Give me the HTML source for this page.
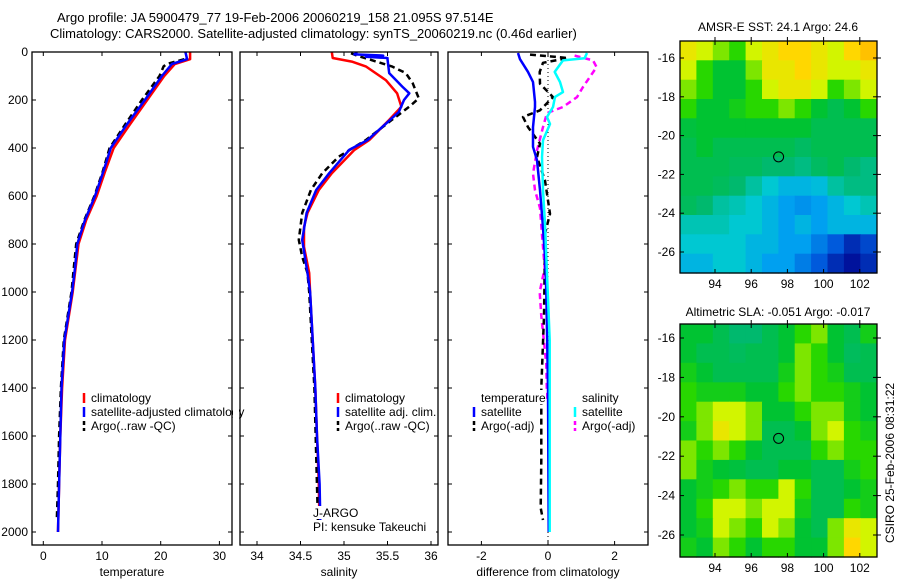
<!DOCTYPE html>
<html><head><meta charset="utf-8">
<style>
html,body{margin:0;padding:0;background:#fff;}
svg{display:block;font-family:"Liberation Sans",sans-serif;}
text{font-size:12px;fill:#000;}
</style></head>
<body>
<svg id="fig" width="900" height="580" viewBox="0 0 900 580" xmlns="http://www.w3.org/2000/svg">
<defs>
<clipPath id="c1"><rect x="32" y="52" width="200" height="493"/></clipPath>
<clipPath id="c2"><rect x="240" y="52" width="198" height="493"/></clipPath>
<clipPath id="c3"><rect x="448" y="52" width="200" height="493"/></clipPath>
</defs>
<text x="57" y="22" style="font-size:13px">Argo profile: JA 5900479_77 19-Feb-2006 20060219_158 21.095S 97.514E</text>
<text x="50" y="38" style="font-size:13px">Climatology: CARS2000. Satellite-adjusted climatology: synTS_20060219.nc (0.46d earlier)</text>
<g id="p1"></g>
<g id="p2"></g>
<g id="p3"></g>
<g id="m1"></g>
<g id="m2"></g>
<text x="778" y="31" text-anchor="middle">AMSR-E SST: 24.1  Argo: 24.6</text>
<text x="778" y="316" text-anchor="middle">Altimetric SLA: -0.051  Argo: -0.017</text>
<text transform="translate(894,463) rotate(-90)" text-anchor="middle">CSIRO 25-Feb-2006 08:31:22</text>
</svg>
<script>
// ---- data ----
const depthTicks=[0,200,400,600,800,1000,1200,1400,1600,1800,2000];
const tempTicks=[0,10,20,30];
const salTicks=[34,34.5,35,35.5,36];
const salTickLabels=["34","34.5","35","35.5","36"];
const diffTicks=[-2,0,2];
// temperature
const tClimDepth=[0,30,50,100,200,300,400,500,600,700,800,900,1000,1200,1400,1600,1800,2000];
const tClim=[25.0,25.0,22.4,20.6,17.7,14.8,12.0,10.5,9.1,7.3,6.0,5.5,5.0,3.7,3.2,2.9,2.7,2.5];
const tSatDepth=[0,30,50,100,200,300,400,500,600,700,800,900,1000,1200,1400,1600,1800,2000];
const tSat=[24.2,24.5,21.9,20.2,17.3,14.3,11.5,10.2,8.8,7.1,5.8,5.4,4.9,3.6,3.1,2.9,2.7,2.5];
const tArgoDepth=[30,50,60,100,200,300,400,500,600,700,800,900,1000,1200,1400,1600,1800,1950];
const tArgo=[24.0,21.0,20.5,19.8,16.8,14.0,11.3,10.1,8.7,7.0,5.6,5.2,4.8,3.5,3.0,2.7,2.5,2.3];
// salinity
const sClimDepth=[0,25,40,60,117,172,228,283,367,408,505,575,671,729,812,921,1000,1200,1400,1600,1800,2000];
const sClim=[34.86,34.87,35.09,35.25,35.48,35.61,35.66,35.52,35.29,35.12,34.86,34.71,34.58,34.54,34.54,34.6,34.61,34.64,34.67,34.69,34.71,34.72];
const sSatDepth=[0,10,15,20,25,30,88,144,172,200,250,299,367,408,505,575,671,783,921,1000,1200,1400,1600,1800,2000];
const sSat=[35.15,35.12,35.45,35.25,35.5,35.5,35.52,35.67,35.75,35.69,35.63,35.48,35.27,35.06,34.83,34.68,34.57,34.52,34.58,34.61,34.64,34.67,34.69,34.72,34.73];
const sArgoDepth=[5,15,60,88,130,193,228,283,367,436,505,575,671,783,853,921,1000,1400,1950];
const sArgo=[35.08,35.15,35.55,35.71,35.79,35.86,35.75,35.55,35.25,34.94,34.75,34.62,34.52,34.48,34.52,34.58,34.6,34.66,34.7];
// differences
const dTSatDepth=[4,30,83,125,208,229,313,395,451,576,715,854,1000,1400,2000];
const dTSat=[-0.9,-0.84,-0.6,-0.45,-0.39,-0.39,-0.45,-0.45,-0.33,-0.24,-0.16,-0.09,-0.05,0,0.02];
const dSSatDepth=[4,26,35,83,125,167,187,229,271,300,368,438,576,715,924,1200,2000];
const dSSat=[1.17,1.1,0.45,0.2,0.36,0.45,0.21,0.15,-0.03,0.06,-0.15,-0.18,-0.15,-0.09,-0.03,0.05,0.05];
const dTArgoDepth=[11,25,45,83,132,188,243,271,313,382,438,535,674,757,900,1100,1400,1700,1900,1950];
const dTArgo=[-0.54,0.6,-0.15,-0.25,-0.24,0.15,-0.24,-0.75,-0.6,-0.24,-0.33,-0.09,0.06,-0.09,-0.1,-0.12,-0.2,-0.2,-0.22,-0.15];
const dSArgoDepth=[15,35,63,146,188,229,254,313,410,507,576,650,760,900,1000,1100,1300,1450];
const dSArgo=[0.8,1.35,1.46,1.05,0.87,0.45,-0.03,-0.15,-0.33,-0.45,-0.39,-0.24,-0.18,-0.1,-0.25,-0.2,-0.05,-0.03];
// maps (colour level 0..9), rows north->south, cols west->east
const latTicks=[-16,-18,-20,-22,-24,-26];
const lonTicks=[94,96,98,100,102];
const sstGrid=[
[7.5,7,6.5,6,7,7.5,8,8,7.5,7,8,8.5],
[7,6,5,5,6.5,7.5,7.5,8,7.5,7,7,7.5],
[6.5,6,5,5,6,7,7.5,7.5,7,6,6.5,7],
[6,5,5,5.5,6,6,6.5,6,5,4.5,5,6],
[4.8,5,5,5,5,5,5,5,4.5,4.5,4.5,4.5],
[4.5,5,4.5,4.5,4.5,4.5,4.5,4.2,4.5,4.5,4.5,4.5],
[4.5,4.5,4.5,4.3,4.3,4,4,3.8,4.2,4.5,4,3.8],
[4.5,4.5,4.3,4,3.5,3,2.5,2.5,2.7,3.5,3.8,3.8],
[4.3,4,3.5,3.3,3,2.5,2,1.8,2,2.5,3,3.3],
[3.3,3.3,3.3,3,3,2.5,2,2.5,2,2.5,2.5,2.5],
[3,3,3,3,2.5,2.5,2,2,1.5,1,0.5,0.8],
[2.5,2.5,3,3,2.5,2,2,1.5,1,0.5,0.2,0.5]];
const slaGrid=[
[5,5,4.5,4,4,4.5,5,6,6.5,5,4.5,5.5],
[5,4.5,4.5,4.3,4.5,4.5,5,6.5,6,5,4.3,4.5],
[5.5,5,4.5,4.5,4.5,4.5,5.5,6.5,6,5.5,4.5,4.5],
[6,5.5,5.5,5.5,5,5,6,6.5,6,6,5.5,5],
[6,6.5,7,7,6.5,5,5,6,6.5,6.5,5.5,5],
[5.5,6.5,7.5,7,6.5,4.5,4.5,5,6.5,7,6,5.5],
[6.5,6,6.5,6,5,4.5,4.5,4.5,6,6.5,6,6],
[6.5,5.5,5,4.8,4.5,4.5,5,5,4.5,4.5,5.5,6],
[5,5.5,6,6.5,6,6,7,6,4.5,4.5,5,5.5],
[5,6,7,7,6.5,7,7,5.5,4.5,4.5,6,5.5],
[5,5.5,7,6.5,6,7,6.5,5,4.5,6.5,7.5,7],
[5.5,5,6.5,6,5,6,6,5,5,6.5,8,7]];
const floatLon=97.514, floatLat=-21.095;

// ---- helpers ----
const NS="http://www.w3.org/2000/svg";
function mk(tag,attrs,parent){const e=document.createElementNS(NS,tag);for(const k in attrs)e.setAttribute(k,attrs[k]);parent.appendChild(e);return e;}
const yD=d=>52+d*0.24;
const x1=t=>43.3+t*5.87;
const x2=s=>257+(s-34)*87;
const x3=v=>548+v*33.3;

function panel(g,x0,x1p,xTicks,xScale,xLabels,label,showY){
  const top=52,bot=545;
  const box=mk('rect',{x:x0,y:top,width:x1p-x0,height:bot-top,fill:'none',stroke:'#000','stroke-width':1.3},g);
  
  
  depthTicks.forEach(d=>{
    const y=yD(d);
    mk('line',{x1:x0,x2:x0+4,y1:y,y2:y,stroke:'#000'},g);
    mk('line',{x1:x1p-4,x2:x1p,y1:y,y2:y,stroke:'#000'},g);
    if(showY){const t=mk('text',{x:x0-4,y:y+4,'text-anchor':'end'},g);t.textContent=d;
      
      }
  });
  xTicks.forEach((v,i)=>{
    const x=xScale(v);
    mk('line',{x1:x,x2:x,y1:top,y2:top+4,stroke:'#000'},g);
    mk('line',{x1:x,x2:x,y1:bot-4,y2:bot,stroke:'#000'},g);
    const t=mk('text',{x:x,y:560,'text-anchor':'middle'},g);t.textContent=xLabels[i];
    
    
  });
  const t=mk('text',{x:(x0+x1p)/2,y:576,'text-anchor':'middle'},g);t.textContent=label;
  
  
}
function series(g,clip,xs,ds,xScale,color,dash,name,w){
  const pts=xs.map((v,i)=>xScale(v).toFixed(1)+','+yD(ds[i]).toFixed(1)).join(' ');
  const p=mk('polyline',{points:pts,fill:'none',stroke:color,'stroke-width':w||2.5,'clip-path':'url(#'+clip+')','stroke-linejoin':'round'},g);
  if(dash)p.setAttribute('stroke-dasharray',dash);
  
  
}
function legend(g,x,y,color,dash,label,name){
  if(color){const l=mk('line',{x1:x,x2:x,y1:y-9,y2:y+1,stroke:color,'stroke-width':2.5},g);
    if(dash)l.setAttribute('stroke-dasharray',dash);}
  const t=mk('text',{x:x+7,y:y},g);t.textContent=label;
  
  
}

// panel 1
const p1=document.getElementById('p1');
series(p1,'c1',tClim,tClimDepth,x1,'#f00',null,'temp-climatology-line');
series(p1,'c1',tArgo,tArgoDepth,x1,'#000','6,4','temp-argo-line');
series(p1,'c1',tSat,tSatDepth,x1,'#00f',null,'temp-satellite-line');
panel(p1,32,232,tempTicks,x1,tempTicks.map(String),'temperature',true);
legend(p1,84,402,'#f00',null,'climatology','legend-climatology');
legend(p1,84,416,'#00f',null,'satellite-adjusted climatology','legend-satellite');
legend(p1,84,430,'#000','4,3','Argo(..raw -QC)','legend-argo');
mk('rect',{x:233,y:395,width:6,height:40,fill:'#fff'},p1);

// panel 2
const p2=document.getElementById('p2');
series(p2,'c2',sClim,sClimDepth,x2,'#f00',null,'sal-climatology-line');
series(p2,'c2',sArgo,sArgoDepth,x2,'#000','6,4','sal-argo-line');
series(p2,'c2',sSat,sSatDepth,x2,'#00f',null,'sal-satellite-line');
panel(p2,240,438,salTicks,x2,salTickLabels,'salinity',false);
legend(p2,338,402,'#f00',null,'climatology','legend-sal-climatology');
legend(p2,338,416,'#00f',null,'satellite adj. clim.','legend-sal-satellite');
legend(p2,338,430,'#000','4,3','Argo(..raw -QC)','legend-sal-argo');
mk('rect',{x:312,y:506,width:45,height:13,fill:'#fff'},p2);
mk('rect',{x:312,y:520,width:124,height:13,fill:'#fff'},p2);
legend(p2,306,517,null,null,'J-ARGO','institution-label');
legend(p2,306,531,null,null,'PI: kensuke Takeuchi','pi-label');

// panel 3
const p3=document.getElementById('p3');
mk('line',{x1:x3(0),x2:x3(0),y1:52,y2:545,stroke:'#000','stroke-dasharray':'1,3'},p3);
series(p3,'c3',dSArgo,dSArgoDepth,x3,'#f0f','6,4','sal-argo-diff-line');
series(p3,'c3',dTArgo,dTArgoDepth,x3,'#000','6,4','temp-argo-diff-line');
series(p3,'c3',dTSat,dTSatDepth,x3,'#00f',null,'temp-satellite-diff-line');
series(p3,'c3',dSSat,dSSatDepth,x3,'#0ff',null,'sal-satellite-diff-line');
panel(p3,448,648,diffTicks,x3,diffTicks.map(String),'difference from climatology',false);
[[480,390,66],[481,404,44],[481,418,57],[581,390,44],[581,404,44],[581,418,57]].forEach(r=>mk('rect',{x:r[0],y:r[1],width:r[2],height:14,fill:'#fff'},p3));
legend(p3,474,402,null,null,'temperature','legend-temperature-header');
legend(p3,474,416,'#00f',null,'satellite','legend-temp-satellite');
legend(p3,474,430,'#000','4,3','Argo(-adj)','legend-temp-argo');
legend(p3,575,402,null,null,'salinity','legend-salinity-header');
legend(p3,575,416,'#0ff',null,'satellite','legend-sal-satellite-diff');
legend(p3,575,430,'#f0f','4,3','Argo(-adj)','legend-sal-argo-diff');

// maps
const stops=[[0,0,140],[0,90,220],[0,160,240],[0,200,210],[0,185,110],[0,195,50],[40,215,0],[210,245,0],[255,215,0],[255,170,0]];
function col(v){v=Math.max(0,Math.min(9,v));const i=Math.min(8,Math.floor(v)),f=v-i;const a=stops[i],b=stops[i+1];
  return 'rgb('+a.map((c,k)=>Math.round(c+(b[k]-c)*f)).join(',')+')';}
function map(g,grid,top,bot,latY){
  const left=680,right=877,lonL=92.07,lonR=102.93;
  const lonX=l=>715+(l-94)*18.1;
  const nr=grid.length,nc=grid[0].length;
  const k=(latY(-26)-latY(-16))/10;
  const latT=-16+(latY(-16)-top)/k;
  const latB=-16+(latY(-16)-bot)/k;
  grid.forEach((row,r)=>row.forEach((v,c)=>{
    const lo0=lonL+(lonR-lonL)*c/nc,lo1=lonL+(lonR-lonL)*(c+1)/nc;
    const la0=latT+(latB-latT)*r/nr,la1=latT+(latB-latT)*(r+1)/nr;
    const x=lonX(lo0),y=latY(la0);
    const cell=mk('rect',{x:x.toFixed(1),y:y.toFixed(1),width:(lonX(lo1)-x+0.6).toFixed(1),height:(latY(la1)-y+0.6).toFixed(1),fill:col(v)},g);
    
    
  }));
  const fr=mk('rect',{x:left,y:top,width:right-left,height:bot-top,fill:'none',stroke:'#000','stroke-width':1.3},g);
  
  
  latTicks.forEach(la=>{const y=latY(la);
    mk('line',{x1:left,x2:left+4,y1:y,y2:y,stroke:'#000'},g);
    mk('line',{x1:right-4,x2:right+4,y1:y,y2:y,stroke:'#000'},g);
    const t=mk('text',{x:left-5,y:y+4,'text-anchor':'end'},g);t.textContent=la;
    
    });
  lonTicks.forEach(lo=>{const x=lonX(lo);
    mk('line',{x1:x,x2:x,y1:top-4,y2:top+4,stroke:'#000'},g);
    mk('line',{x1:x,x2:x,y1:bot-4,y2:bot,stroke:'#000'},g);
    const t=mk('text',{x:x,y:bot+15,'text-anchor':'middle'},g);t.textContent=lo;
    
    });
  const m=mk('circle',{cx:lonX(floatLon),cy:latY(floatLat),r:5,fill:'none',stroke:'#000','stroke-width':1},g);
  
  
}
map(document.getElementById('m1'),sstGrid,41,273,la=>58+(-16-la)*19.4);
map(document.getElementById('m2'),slaGrid,324,557,la=>338+(-16-la)*19.7);
</script>
</body></html>
